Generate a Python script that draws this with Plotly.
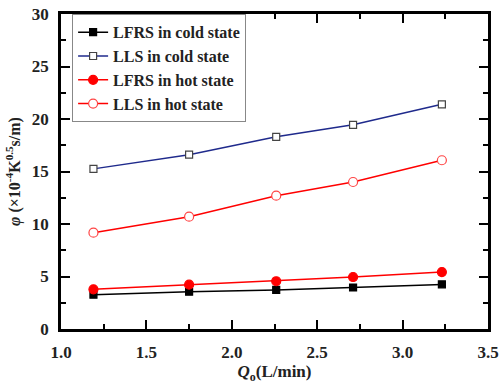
import plotly.graph_objects as go

x_q = [1.19, 1.75, 2.26, 2.71, 3.23]
lfrs_cold = [3.27, 3.55, 3.72, 3.95, 4.25]
lls_cold = [15.25, 16.6, 18.3, 19.45, 21.4]
lfrs_hot = [3.78, 4.22, 4.55, 4.95, 5.42]
lls_hot = [9.17, 10.7, 12.7, 14.0, 16.07]

names = ["LFRS in cold state", "LLS in cold state", "LFRS in hot state", "LLS in hot state"]
series = [lfrs_cold, lls_cold, lfrs_hot, lls_hot]
line_colors = ["#000000", "#1f2a8c", "#ff0000", "#ff0000"]
symbols = ["square", "square", "circle", "circle"]
fills = ["#000000", "#ffffff", "#ff0000", "#ffffff"]
edges = ["#000000", "#444444", "#ff0000", "#ff4444"]
sizes = [7, 7, 9, 9]

fig = go.Figure()
for n, ys, lc, sym, fc, ec, sz in zip(names, series, line_colors, symbols, fills, edges, sizes):
    fig.add_trace(go.Scatter(
        x=x_q, y=ys, mode="lines+markers", name="<b>" + n + "</b>",
        line=dict(color=lc, width=1.5),
        marker=dict(symbol=sym, color=fc, size=sz, line=dict(color=ec, width=1.2)),
    ))

font_fam = "Liberation Serif, Times New Roman, serif"
axis_common = dict(
    showline=True, linecolor="black", linewidth=2.5, mirror="ticks",
    ticks="inside", ticklen=9, tickwidth=2, tickcolor="black",
    showgrid=False, zeroline=False,
    tickprefix="<b>", ticksuffix="</b>", ticklabelstandoff=6,
    tickfont=dict(family=font_fam, size=17, color="#222222"),
)

fig.update_layout(
    width=502, height=387,
    margin=dict(l=61, r=14, t=14, b=58, autoexpand=False),
    paper_bgcolor="white", plot_bgcolor="white",
    font=dict(family=font_fam, color="#222222"),
    showlegend=True,
    legend=dict(
        x=0.026, y=0.999, xanchor="left", yanchor="top",
        bordercolor="#888888", borderwidth=1, bgcolor="white",
        font=dict(family=font_fam, size=16, color="#222222"),
        tracegroupgap=0, itemwidth=30,
    ),
    xaxis=dict(
        range=[1.0, 3.5], dtick=0.5, tickformat=".1f",
        minor=dict(ticks="inside", ticklen=5, tickwidth=2, tickcolor="black", dtick=0.25),
        title=dict(text="<b><i>Q</i><sub>o</sub>(L/min)</b>", standoff=2,
                   font=dict(family=font_fam, size=17, color="#222222")),
        **axis_common,
    ),
    yaxis=dict(
        range=[0, 30], dtick=5,
        minor=dict(ticks="inside", ticklen=5, tickwidth=2, tickcolor="black", dtick=2.5),
        title=dict(text="<b><i>φ</i> (×10<sup>-4</sup>K<sup>0.5</sup>s/m)</b>", standoff=8,
                   font=dict(family=font_fam, size=16, color="#222222")),
        **axis_common,
    ),
)

fig.write_html("out.html")
